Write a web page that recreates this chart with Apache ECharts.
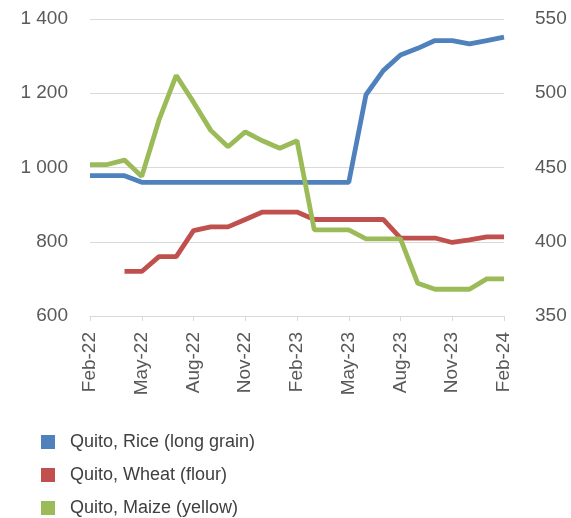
<!DOCTYPE html>
<html>
<head>
<meta charset="utf-8">
<script src="https://cdn.jsdelivr.net/npm/echarts@6/dist/echarts.min.js"></script>
<style>html,body{margin:0;padding:0;background:#fff;}#c{width:571px;height:518px;}</style>
</head>
<body>
<div id="c"></div>
<script>
const months = ['Feb-22','Mar-22','Apr-22','May-22','Jun-22','Jul-22','Aug-22','Sep-22','Oct-22','Nov-22','Dec-22','Jan-23',
  'Feb-23','Mar-23','Apr-23','May-23','Jun-23','Jul-23','Aug-23','Sep-23','Oct-23','Nov-23','Dec-23','Jan-24','Feb-24'];
const rice = [978,978,978,960,960,960,960,960,960,960,960,960,960,960,960,960,1196,1261,1303,1321,1342,1342,1333,1342,1351];
const wheat = [null,null,720,720,760,760,830,840,840,860,880,880,880,860,860,860,860,860,810,810,810,798,805,813,813];
const maize = [452,452,455,444,482,512,494,475,464,474,468,463,468,408,408,408,402,402,402,372,368,368,368,375,375];
const leftTicks = {min:600, max:1400, interval:200};
const rightTicks = {min:350, max:550, interval:50};

const chart = echarts.init(document.getElementById('c'));
const fmt = v => String(v).replace(/\B(?=(\d{3})+(?!\d))/g, ' ');
const font = 'Liberation Sans, Arial, sans-serif';
chart.setOption({
  animation: false,
  textStyle: {fontFamily: font},
  grid: {left: 90, right: 67, top: 19, bottom: 202},
  legend: {
    orient: 'vertical', left: 41, top: 433, padding: 0, icon: 'rect', itemWidth: 14, itemHeight: 14, itemGap: 15,
    height: 90,
    textStyle: {fontSize: 18, lineHeight: 18, color: '#404040', fontFamily: font, padding: [0,0,0,10]},
    data: ['Quito, Rice (long grain)','Quito, Wheat (flour)','Quito, Maize (yellow)']
  },
  xAxis: {
    type: 'category', data: months, boundaryGap: false,
    axisLine: {lineStyle: {color: '#d9d9d9', width: 1}},
    axisTick: {show: true, interval: 2, length: 5, lineStyle: {color: '#d9d9d9'}},
    axisLabel: {interval: 2, rotate: 90, fontSize: 19, color: '#595959', margin: 16, fontFamily: font}
  },
  yAxis: [
    {type: 'value', min: leftTicks.min, max: leftTicks.max, interval: leftTicks.interval,
     axisLine: {show: false}, axisTick: {show: false},
     splitLine: {lineStyle: {color: '#d9d9d9'}},
     axisLabel: {fontSize: 19, color: '#595959', margin: 22, formatter: fmt, fontFamily: font}},
    {type: 'value', min: rightTicks.min, max: rightTicks.max, interval: rightTicks.interval,
     axisLine: {show: false}, axisTick: {show: false}, splitLine: {show: false},
     axisLabel: {fontSize: 19, color: '#595959', margin: 31, fontFamily: font}}
  ],
  series: [
    {name: 'Quito, Rice (long grain)', type: 'line', data: rice, yAxisIndex: 0, symbol: 'none',
     lineStyle: {width: 4.8, color: '#4F81BD'}, itemStyle: {color: '#4F81BD'}},
    {name: 'Quito, Wheat (flour)', type: 'line', data: wheat, yAxisIndex: 0, symbol: 'none',
     lineStyle: {width: 4.8, color: '#C0504D'}, itemStyle: {color: '#C0504D'}},
    {name: 'Quito, Maize (yellow)', type: 'line', data: maize, yAxisIndex: 1, symbol: 'none',
     lineStyle: {width: 4.8, color: '#9BBB59'}, itemStyle: {color: '#9BBB59'}}
  ]
});
</script>
</body>
</html>
